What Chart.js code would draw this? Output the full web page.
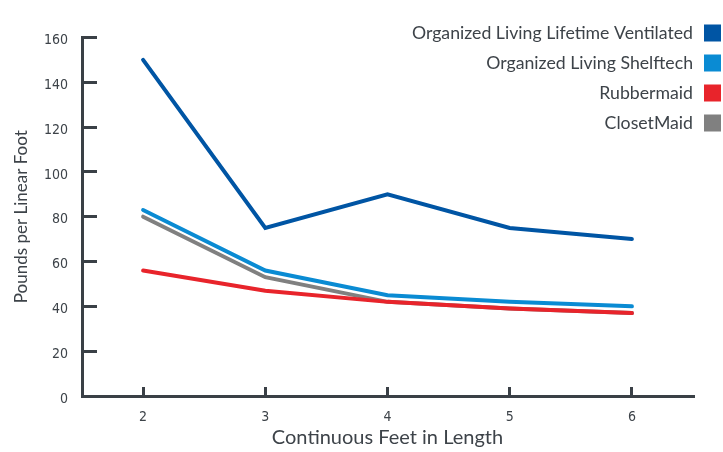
<!DOCTYPE html>
<html>
<head>
<meta charset="utf-8">
<script src="https://cdn.jsdelivr.net/npm/chart.js@4"></script>
<style>
  html, body { margin: 0; padding: 0; background: #fff; }
  #wrap { width: 723px; height: 452px; }
</style>
</head>
<body>
<div id="wrap"><canvas id="chart"></canvas></div>
<script>
const feet = ['2', '3', '4', '5', '6'];
const lifetimeVentilated = [150, 75, 90, 75, 70];
const shelftech = [83, 56, 45, 42, 40];
const rubbermaid = [56, 47, 42, 39, 37];
const closetMaid = [80, 53, 42, 39, 37];
const yTicks = [0, 20, 40, 60, 80, 100, 120, 140, 160];

const textColor = '#3d4349';
const axisColor = '#3a4046';
const tickFont = "'DejaVu Sans Condensed', 'Liberation Sans', sans-serif";

// legend drawn by hand: text right-aligned, square on the right
const rightLegend = {
    id: 'rightLegend',
    afterDraw(chart, args, opts) {
        const ctx = chart.ctx;
        ctx.save();
        ctx.font = opts.font;
        ctx.textAlign = 'right';
        ctx.textBaseline = 'middle';
        chart.data.datasets.forEach((ds, i) => {
            const y = opts.top + i * opts.spacing;
            ctx.fillStyle = textColor;
            ctx.fillText(ds.label, opts.textRight, y);
            ctx.fillStyle = ds.borderColor;
            ctx.fillRect(opts.boxLeft, y - opts.box / 2, opts.box, opts.box);
        });
        ctx.restore();
    }
};

const lineStyle = { borderWidth: 4, pointRadius: 0, tension: 0, fill: false, borderCapStyle: 'round' };

new Chart(document.getElementById('chart'), {
    type: 'line',
    data: {
        labels: feet,
        datasets: [
            { label: 'Organized Living Lifetime Ventilated', data: lifetimeVentilated, borderColor: '#0055a4', ...lineStyle },
            { label: 'Organized Living Shelftech', data: shelftech, borderColor: '#0a8bd3', ...lineStyle },
            { label: 'Rubbermaid', data: rubbermaid, borderColor: '#e8242b', ...lineStyle },
            { label: 'ClosetMaid', data: closetMaid, borderColor: '#808080', ...lineStyle }
        ]
    },
    options: {
        responsive: true,
        maintainAspectRatio: false,
        animation: false,
        layout: { padding: { left: 0, right: 30, top: 14, bottom: 0 } },
        plugins: {
            legend: { display: false },
            tooltip: { enabled: false },
            rightLegend: { font: '17.7px Lato', top: 33, spacing: 30, textRight: 693, boxLeft: 704, box: 17 }
        },
        scales: {
            x: {
                offset: true,
                afterFit(scale) { scale.height = 56; },
                border: { display: true, color: axisColor, width: 3 },
                grid: { drawOnChartArea: false, color: axisColor, lineWidth: 3, tickLength: -9 },
                ticks: { color: textColor, font: { family: tickFont, size: 14 }, padding: 22, maxRotation: 0 },
                title: {
                    display: true,
                    text: 'Continuous Feet in Length',
                    color: textColor,
                    font: { family: 'Lato', size: 20 },
                    padding: { top: 0, bottom: 2 }
                }
            },
            y: {
                min: 0,
                max: 160,
                afterFit(scale) { scale.width = 82; },
                afterBuildTicks(scale) { scale.ticks = yTicks.map(v => ({ value: v })); },
                border: { display: true, color: axisColor, width: 3 },
                grid: { drawOnChartArea: false, color: axisColor, lineWidth: 3, tickLength: -15 },
                ticks: { color: textColor, font: { family: tickFont, size: 14 }, padding: 29, labelOffset: 3 },
                title: {
                    display: true,
                    text: 'Pounds per Linear Foot',
                    color: textColor,
                    font: { family: 'Lato', size: 17 },
                    padding: { top: 11, bottom: 0 }
                }
            }
        }
    },
    plugins: [rightLegend]
});
</script>
</body>
</html>
